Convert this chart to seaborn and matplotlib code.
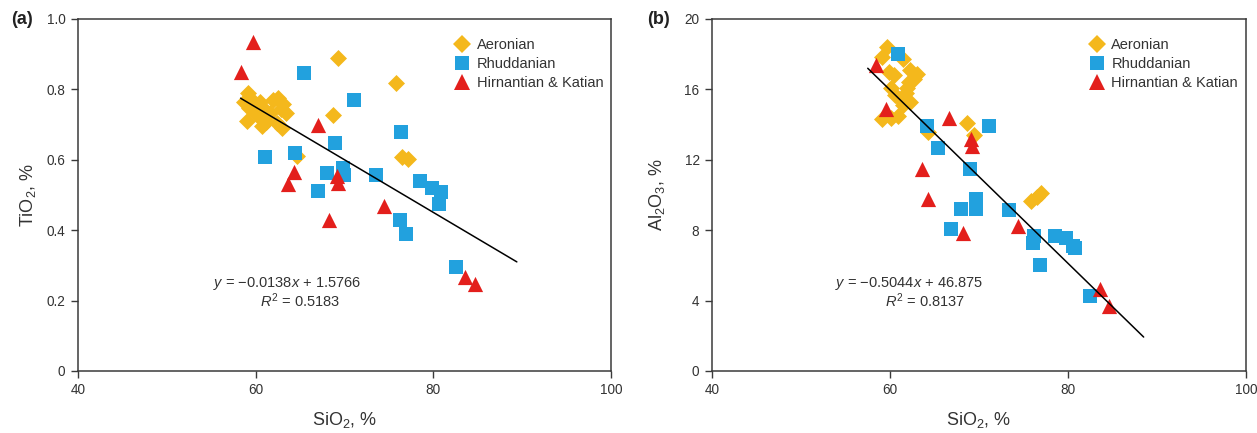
import numpy as np
import pandas as pd
import matplotlib
matplotlib.use("Agg")
import matplotlib.pyplot as plt
import seaborn as sns
from matplotlib.lines import Line2D

# ---------------- data ----------------
groups = ["Aeronian", "Rhuddanian", "Hirnantian & Katian"]

# Panel (a): TiO2 vs SiO2
a_sio2_aer = [58.65, 59.0, 59.1, 59.3, 59.55, 59.9, 60.1, 60.45, 60.7, 60.8, 61.2, 61.6, 61.9,
              62.4, 62.5, 62.9, 63.0, 63.1, 63.4, 64.6, 68.7, 69.3, 75.8, 76.5, 77.1]
a_tio2_aer = [0.764, 0.71, 0.79, 0.747, 0.77, 0.753, 0.727, 0.764, 0.696, 0.747, 0.707, 0.733, 0.77,
              0.705, 0.775, 0.744, 0.69, 0.758, 0.733, 0.61, 0.727, 0.889, 0.818, 0.608, 0.602]
a_sio2_rhu = [61.0, 64.4, 65.4, 67.0, 68.0, 68.9, 69.8, 69.9, 71.1, 73.5, 76.3, 76.4, 76.9,
              78.5, 79.9, 80.6, 80.9, 82.6]
a_tio2_rhu = [0.608, 0.62, 0.847, 0.511, 0.562, 0.648, 0.577, 0.557, 0.77, 0.557, 0.43, 0.68, 0.39,
              0.54, 0.52, 0.474, 0.508, 0.296]
a_sio2_hk = [58.4, 59.7, 63.6, 64.3, 67.0, 68.2, 69.1, 69.3, 74.5, 83.6, 84.7]
a_tio2_hk = [0.85, 0.935, 0.53, 0.565, 0.70, 0.43, 0.555, 0.535, 0.47, 0.267, 0.247]
a_fit_x = [58.3, 89.4]
a_fit_y = [0.775, 0.31]
a_eq = ["$y$ = \u22120.0138$x$ + 1.5766", "$R^2$ = 0.5183"]

# Panel (b): Al2O3 vs SiO2
b_sio2_aer = [59.1, 59.1, 59.7, 59.85, 60.1, 60.1, 60.5, 60.6, 60.9, 61.2, 61.5, 61.5, 61.8, 61.9,
              62.1, 62.3, 62.3, 62.7, 63.0, 64.3, 68.6, 69.4, 75.8, 76.5, 77.0]
b_al2o3_aer = [17.84, 14.3, 18.4, 17.0, 16.1, 14.4, 16.8, 15.7, 14.5, 15.4, 17.7, 15.1, 15.8, 16.1,
               16.4, 17.1, 15.3, 16.6, 16.9, 13.6, 14.1, 13.4, 9.66, 9.9, 10.1]
b_sio2_rhu = [60.9, 64.2, 65.4, 66.9, 68.0, 69.0, 69.7, 69.7, 71.1, 73.4, 76.2, 76.1, 76.8,
              78.5, 79.8, 80.6, 80.8, 82.5]
b_al2o3_rhu = [18.0, 13.9, 12.65, 8.07, 9.2, 11.5, 9.8, 9.2, 13.9, 9.15, 7.67, 7.27, 6.02,
               7.67, 7.55, 7.1, 7.0, 4.26]
b_sio2_hk = [58.4, 59.6, 63.6, 64.3, 66.6, 68.2, 69.1, 69.2, 74.4, 83.6, 84.6]
b_al2o3_hk = [17.4, 14.9, 11.5, 9.8, 14.4, 7.85, 13.2, 12.8, 8.25, 4.65, 3.7]
b_fit_x = [57.5, 88.5]
b_fit_y = [17.2, 1.93]
b_eq = ["$y$ = \u22120.5044$x$ + 46.875", "$R^2$ = 0.8137"]

x_ticks = [40, 60, 80, 100]
a_yticks = [0, 0.2, 0.4, 0.6, 0.8, 1.0]
a_yticklabels = ["0", "0.2", "0.4", "0.6", "0.8", "1.0"]
b_yticks = [0, 4, 8, 12, 16, 20]

# ---------------- style ----------------
sns.set_style("ticks")
plt.rcParams["font.family"] = ["Liberation Sans", "DejaVu Sans"]
plt.rcParams["mathtext.fontset"] = "custom"
plt.rcParams["mathtext.rm"] = "Liberation Sans"
plt.rcParams["mathtext.it"] = "Liberation Sans:italic"
plt.rcParams["mathtext.bf"] = "Liberation Sans:bold"

colors = {"Aeronian": "#F4B81C", "Rhuddanian": "#22A1DE", "Hirnantian & Katian": "#E31F1C"}
markers = {"Aeronian": "D", "Rhuddanian": "s", "Hirnantian & Katian": "^"}
sizes = {"Aeronian": 75, "Rhuddanian": 95, "Hirnantian & Katian": 120}
edge = "#3a3a3a"
txt = "#333333"


def make_df(xs, ys):
    rows = []
    for g, x, y in zip(groups, xs, ys):
        rows.append(pd.DataFrame({"SiO2": x, "val": y, "group": g}))
    return pd.concat(rows, ignore_index=True)


fig = plt.figure(figsize=(12.57, 4.33), dpi=100)
axA = fig.add_axes([78 / 1257, 1 - 371 / 433, (611 - 78) / 1257, (371 - 19) / 433])
axB = fig.add_axes([712 / 1257, 1 - 371 / 433, (1246 - 712) / 1257, (371 - 19) / 433])

panels = [
    (axA, make_df([a_sio2_aer, a_sio2_rhu, a_sio2_hk], [a_tio2_aer, a_tio2_rhu, a_tio2_hk]),
     a_fit_x, a_fit_y, a_eq, (0, 1.0), a_yticks, a_yticklabels, "TiO$_2$, %", (287, 300), 38),
    (axB, make_df([b_sio2_aer, b_sio2_rhu, b_sio2_hk], [b_al2o3_aer, b_al2o3_rhu, b_al2o3_hk]),
     b_fit_x, b_fit_y, b_eq, (0, 20), b_yticks, [str(v) for v in b_yticks], "Al$_2$O$_3$, %", (909, 925), 667),
]

for ax, df, fx, fy, eq, ylim, yt, ytl, ylab, eqx, ylab_px in panels:
    for g in groups:
        sub = df[df["group"] == g]
        sns.scatterplot(data=sub, x="SiO2", y="val", ax=ax, marker=markers[g],
                        color=colors[g], s=sizes[g], linewidth=0, legend=False, zorder=3)
    sns.lineplot(x=fx, y=fy, ax=ax, color="black", linewidth=1.1, zorder=4)
    ax.set_xlim(40, 100)
    ax.set_ylim(*ylim)
    ax.set_xticks(x_ticks)
    ax.set_yticks(yt)
    ax.set_yticklabels(ytl)
    ax.set_xlabel("SiO$_2$, %", fontsize=13, color=txt, labelpad=9)
    ax.set_ylabel(ylab, fontsize=13, color=txt)
    pos = ax.get_position()
    ax.yaxis.set_label_coords((ylab_px / 1257 - pos.x0) / pos.width, 0.5)
    ax.tick_params(direction="out", length=5, width=1, colors=edge, labelsize=9.8,
                   labelcolor=txt, pad=4)
    for sp in ax.spines.values():
        sp.set_visible(True)
        sp.set_color(edge)
        sp.set_linewidth(1.1)
    # equation text
    fig.text(eqx[0] / 1257, 1 - 284 / 433, eq[0], ha="center", va="center", fontsize=10.5, color=txt)
    fig.text(eqx[1] / 1257, 1 - 301 / 433, eq[1], ha="center", va="center", fontsize=10.5, color=txt)
    # legend
    handles = [Line2D([], [], linestyle="none", marker=markers[g], color=colors[g],
                      markersize=np.sqrt(sizes[g]) * 1.0, markeredgewidth=0) for g in groups]
    ax.legend(handles, groups, loc="upper left", bbox_to_anchor=(0.685, 0.975), frameon=False,
              fontsize=10.5, handletextpad=0.4, labelspacing=0.35, borderaxespad=0.3,
              handlelength=1.2, labelcolor=txt)

fig.text(22 / 1257, 1 - 20 / 433, "(a)", fontsize=13, fontweight="bold", ha="center", va="center", color="#222222")
fig.text(659 / 1257, 1 - 20 / 433, "(b)", fontsize=13, fontweight="bold", ha="center", va="center", color="#222222")

fig.savefig("out.png", dpi=100)
